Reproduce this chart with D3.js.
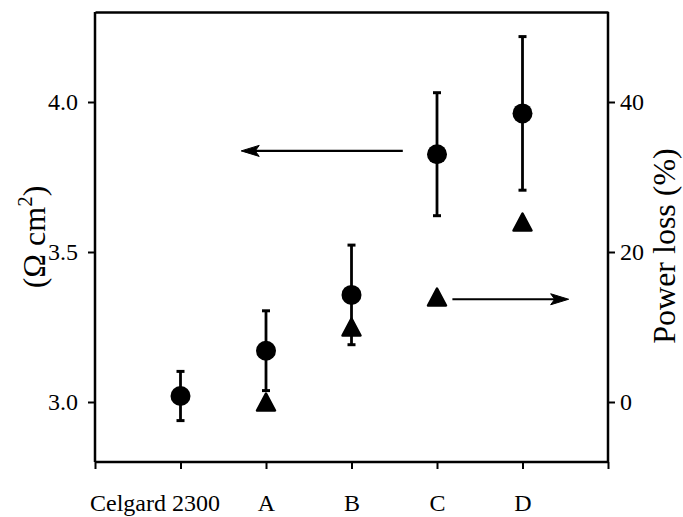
<!DOCTYPE html>
<html>
<head>
<meta charset="utf-8">
<script src="https://cdn.jsdelivr.net/npm/d3@7"></script>
<style>
  body { margin: 0; background: #fff; }
  svg text { font-family: "Liberation Serif", "Times New Roman", Tinos, Times, "DejaVu Serif", serif !important; fill: #000; }
</style>
</head>
<body>
<div id="container"></div>
<script>

// categories along the x axis (positions 1..5)
var categories = ["Celgard 2300", "A", "B", "C", "D"];

// area resistance (left axis), mean and error
var resistance = [3.02, 3.171, 3.357, 3.826, 3.962];
var resistanceErr = [0.082, 0.133, 0.166, 0.205, 0.256];

// power loss (right axis), Celgard has no value
var powerLoss = [null, 0, 10, 14, 24];

var leftTicks = [3.0, 3.5, 4.0];
var rightTicks = [0, 20, 40];

// arrows in data units: [x from, x to, y]
var leftArrow = [3.6, 1.71, 3.837];
var rightArrow = [4.18, 5.54, 13.7];

var width = 683, height = 517;
var margin = {top: 12, right: 75, bottom: 55, left: 95};

var svg = d3.select("#container").append("svg")
    .attr("width", width)
    .attr("height", height);

var x = d3.scaleLinear().domain([0, 6]).range([margin.left, width - margin.right]);
var yL = d3.scaleLinear().domain([2.8, 4.3]).range([height - margin.bottom, margin.top]);
var yR = d3.scaleLinear().domain([-8, 52]).range([height - margin.bottom, margin.top]);

var fs = 24;

// left axis
var gL = svg.append("g")
    .attr("transform", "translate(" + margin.left + ",0)")
    .call(d3.axisLeft(yL).tickValues(leftTicks).tickFormat(d3.format(".1f")).tickSize(7).tickPadding(10));

// right axis
var gR = svg.append("g")
    .attr("transform", "translate(" + (width - margin.right) + ",0)")
    .call(d3.axisRight(yR).tickValues(rightTicks).tickFormat(d3.format("d")).tickSize(7).tickPadding(5));

// bottom axis
var gB = svg.append("g")
    .attr("transform", "translate(0," + (height - margin.bottom) + ")")
    .call(d3.axisBottom(x).tickValues(d3.range(0, 7)).tickSize(7).tickPadding(25)
        .tickFormat(function(d){ return categories[d - 1] || ""; }));

// top frame
svg.append("g")
    .attr("transform", "translate(0," + margin.top + ")")
    .call(d3.axisTop(x).tickValues([]).tickSizeOuter(0));

[gL, gR, gB].forEach(function(g){
    g.attr("font-family", null);
    g.selectAll(".tick line").attr("stroke-width", 2);
    g.selectAll("text").attr("font-size", fs);
});
svg.selectAll(".domain").attr("stroke-width", 2.5);
gL.select(".domain").attr("d", "M-0," + yL.range()[0] + "V" + yL.range()[1]);
gR.select(".domain").attr("d", "M0," + yR.range()[0] + "V" + yR.range()[1]);
gB.select(".domain").attr("d", "M" + x.range()[0] + ",0H" + x.range()[1]);

// the first label sits left of its tick in the original
gB.selectAll(".tick text").filter(function(d){ return d == 1; }).attr("dx", -26);

// axis titles
svg.append("text")
    .attr("transform", "translate(45," + (yL(3.55)) + ") rotate(-90)")
    .attr("text-anchor", "middle")
    .attr("font-size", 32)
    .html('(Ω cm<tspan font-size="21" dy="-13">2</tspan><tspan dy="13">)</tspan>');

svg.append("text")
    .attr("transform", "translate(675," + yL(3.52) + ") rotate(-90)")
    .attr("text-anchor", "middle")
    .attr("font-size", 32)
    .text("Power loss (%)");

// error bars
var eb = svg.append("g").attr("stroke", "#000").attr("stroke-width", 2.8);
resistance.forEach(function(v, i){
    var cx = x(i + 1), hi = yL(v + resistanceErr[i]), lo = yL(v - resistanceErr[i]);
    eb.append("line").attr("x1", cx).attr("x2", cx).attr("y1", hi).attr("y2", lo);
    eb.append("line").attr("x1", cx - 4).attr("x2", cx + 4).attr("y1", hi).attr("y2", hi).attr("stroke-width", 3);
    eb.append("line").attr("x1", cx - 4).attr("x2", cx + 4).attr("y1", lo).attr("y2", lo).attr("stroke-width", 3);
});

// circles
svg.append("g").selectAll("circle")
    .data(resistance)
    .join("circle")
    .attr("cx", function(d, i){ return x(i + 1); })
    .attr("cy", function(d){ return yL(d); })
    .attr("r", 10)
    .attr("fill", "#000");

// triangles
var tri = "M0,-8.5L9,8.5L-9,8.5Z";
svg.append("g").selectAll("path")
    .data(powerLoss.map(function(d, i){ return {v: d, i: i}; }).filter(function(d){ return d.v != null; }))
    .join("path")
    .attr("d", tri)
    .attr("transform", function(d){ return "translate(" + x(d.i + 1) + "," + yR(d.v) + ")"; })
    .attr("fill", "#000")
    .attr("stroke", "#000")
    .attr("stroke-width", 2.5)
    .attr("stroke-linejoin", "round");

// arrows
function arrow(x1, x2, y){
    var dir = x2 > x1 ? 1 : -1;
    svg.append("line")
        .attr("x1", x1).attr("x2", x2 - dir * 10)
        .attr("y1", y).attr("y2", y)
        .attr("stroke", "#000").attr("stroke-width", 2.2);
    svg.append("path")
        .attr("d", "M" + x2 + "," + y +
            "L" + (x2 - dir * 18) + "," + (y - 5.5) +
            "L" + (x2 - dir * 14) + "," + y +
            "L" + (x2 - dir * 18) + "," + (y + 5.5) + "Z")
        .attr("fill", "#000").attr("stroke", "#000").attr("stroke-width", 1).attr("stroke-linejoin", "round");
}
arrow(x(leftArrow[0]), x(leftArrow[1]), yL(leftArrow[2]));
arrow(x(rightArrow[0]), x(rightArrow[1]), yR(rightArrow[2]));

</script>
</body>
</html>
